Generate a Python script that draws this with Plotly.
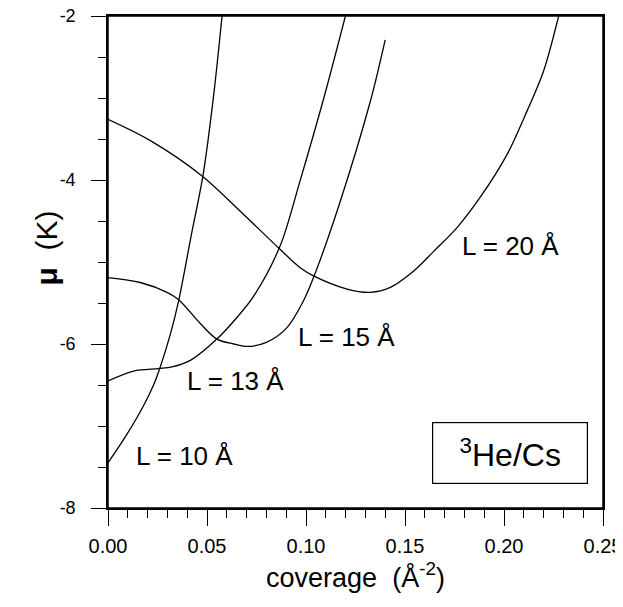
import plotly.graph_objects as go

# Data (coverage in Å^-2, mu in K)
x_L10 = [0, 0.0096, 0.018, 0.023, 0.0264, 0.0315, 0.0357, 0.042, 0.048, 0.0533, 0.0576]
y_L10 = [-7.45, -7.10, -6.75, -6.50, -6.28, -5.88, -5.47, -4.68, -3.94, -2.98, -2.0]

x_L13 = [0, 0.013, 0.0256, 0.0323, 0.0416, 0.055, 0.065, 0.0735, 0.087, 0.097, 0.109, 0.1199]
y_L13 = [-6.45, -6.33, -6.30, -6.28, -6.20, -5.94, -5.68, -5.42, -4.80, -4.01, -3.00, -2.0]

x_L15 = [0, 0.0163, 0.0298, 0.0357, 0.0466, 0.055, 0.0635, 0.070, 0.080, 0.0904, 0.0988,
         0.1038, 0.1165, 0.1325, 0.140]
y_L15 = [-5.19, -5.25, -5.37, -5.46, -5.75, -5.94, -6.00, -6.03, -5.98, -5.80, -5.47,
         -5.19, -4.32, -3.04, -2.29]

x_L20 = [0, 0.0214, 0.0475, 0.0668, 0.0862, 0.0971, 0.1038, 0.1207, 0.1325, 0.1426, 0.1544,
         0.1645, 0.1763, 0.188, 0.2015, 0.2116, 0.22, 0.2276]
y_L20 = [-3.26, -3.52, -3.95, -4.38, -4.83, -5.07, -5.17, -5.33, -5.37, -5.31, -5.11,
         -4.87, -4.58, -4.21, -3.69, -3.16, -2.67, -2.0]

series = [("L = 10 Å", x_L10, y_L10), ("L = 13 Å", x_L13, y_L13),
          ("L = 15 Å", x_L15, y_L15), ("L = 20 Å", x_L20, y_L20)]

label_text = ["L = 10 Å", "L = 13 Å", "L = 15 Å", "L = 20 Å"]
label_x = [0.0385, 0.0643, 0.1203, 0.2032]
label_y = [-7.36, -6.45, -5.92, -4.81]

x_tickvals = [0.0, 0.05, 0.10, 0.15, 0.20, 0.25]
x_ticktext = ["0.00", "0.05", "0.10", "0.15", "0.20", "0.25"]
y_tickvals = [-8, -6, -4, -2]
y_ticktext = ["-8", "-6", "-4", "-2"]

FONT = "Liberation Sans, Arial, sans-serif"

fig = go.Figure()
for name, xs, ys in series:
    fig.add_trace(go.Scatter(x=xs, y=ys, mode="lines", name=name,
                             line=dict(color="black", width=1.3, shape="spline", smoothing=0.9),
                             showlegend=False, hoverinfo="skip"))

for t, lx, ly in zip(label_text, label_x, label_y):
    fig.add_annotation(x=lx, y=ly, text=t, showarrow=False,
                       font=dict(family=FONT, size=26, color="black"))

fig.add_annotation(x=0.2029, y=-7.33, text="<sup>3</sup>He/Cs", showarrow=False,
                   font=dict(family=FONT, size=32, color="black"),
                   bordercolor="black", borderwidth=1.2, width=152, height=58,
                   bgcolor="white")

# y-axis title as a rotated annotation
fig.add_annotation(xref="paper", yref="paper", x=-0.162, y=0.528,
                   text="<b>μ</b>  (K)", textangle=-90, showarrow=False,
                   font=dict(family=FONT, size=30, color="black"))

# frame around the plotting area
fig.add_shape(type="rect", xref="paper", yref="paper", x0=0, x1=1, y0=0, y1=1,
              line=dict(color="black", width=1.5), layer="above")

# page body adds an 8px offset, compensated in the margins; figure fits the window
fig.update_layout(
    width=615, height=599,
    margin=dict(l=100, r=20, t=8, b=99, autoexpand=False),
    paper_bgcolor="white", plot_bgcolor="white",
    font=dict(family=FONT, color="black"),
)
fig.update_xaxes(
    range=[0, 0.25], tickmode="array", tickvals=x_tickvals, ticktext=x_ticktext,
    ticks="outside", ticklen=16, tickwidth=1.3, tickcolor="black",
    minor=dict(dtick=0.01, tick0=0, ticks="outside", ticklen=8, tickwidth=1, tickcolor="black"),
    showline=True, linecolor="black", linewidth=1.5, mirror=True,
    showgrid=False, zeroline=False, automargin=False, ticklabeloverflow="allow",
    tickfont=dict(size=20, family=FONT), ticklabelstandoff=3,
    title=dict(text="coverage  (Å<sup>-2</sup>)", font=dict(size=27, family=FONT), standoff=12),
)
fig.update_yaxes(
    range=[-8, -2], tickmode="array", tickvals=y_tickvals, ticktext=y_ticktext,
    ticks="outside", ticklen=15, tickwidth=1.3, tickcolor="black",
    minor=dict(dtick=0.5, tick0=-8, ticks="outside", ticklen=8, tickwidth=1, tickcolor="black"),
    showline=True, linecolor="black", linewidth=1.5, mirror=True,
    showgrid=False, zeroline=False, automargin=False, ticklabeloverflow="allow",
    tickfont=dict(size=18, family=FONT), ticklabelstandoff=12,
)

fig.write_html("out.html")
